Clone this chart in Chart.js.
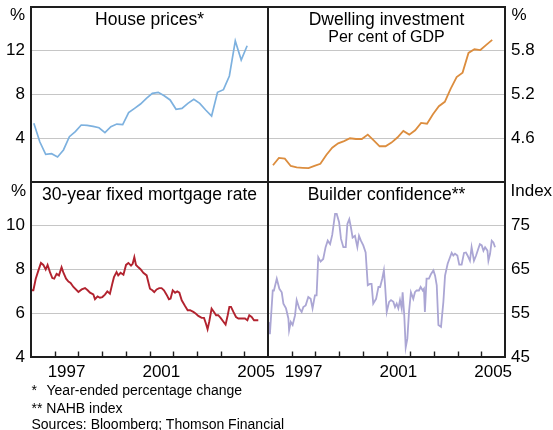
<!DOCTYPE html>
<html><head><meta charset="utf-8">
<script src="https://cdn.jsdelivr.net/npm/chart.js@4"></script>
<style>
html,body{margin:0;padding:0;background:#fff;}
#wrap{position:relative;width:553px;height:430px;overflow:hidden;font-family:"Liberation Sans",Arial,sans-serif;color:#000;}
canvas{position:absolute;left:0;top:0;}
.t{position:absolute;white-space:nowrap;line-height:1;z-index:5;}
.c{transform:translateX(-50%);}
</style></head>
<body><div id="wrap">
<canvas id="c1" width="553" height="430"></canvas>
<canvas id="c2" width="553" height="430"></canvas>
<canvas id="c3" width="553" height="430"></canvas>
<canvas id="c4" width="553" height="430"></canvas>
<div class="t c" style="left:149.5px;top:10.9px;font-size:17.5px">House prices*</div>
<div class="t c" style="left:386.5px;top:10.9px;font-size:17.5px">Dwelling investment</div>
<div class="t c" style="left:386.5px;top:29px;font-size:16px">Per cent of GDP</div>
<div class="t c" style="left:149.5px;top:185.9px;font-size:17.5px">30-year fixed mortgage rate</div>
<div class="t c" style="left:386.5px;top:185.9px;font-size:17.5px">Builder confidence**</div>
<div class="t" style="left:10px;top:5.6px;font-size:17px">%</div>
<div class="t" style="left:511.5px;top:5.6px;font-size:17px">%</div>
<div class="t" style="left:11px;top:181.6px;font-size:17px">%</div>
<div class="t" style="left:510.5px;top:181.6px;font-size:17px">Index</div>
<div class="t" style="left:31.5px;top:383.2px;font-size:14px">*</div>
<div class="t" style="left:46.5px;top:383.2px;font-size:14px">Year-ended percentage change</div>
<div class="t" style="left:31.5px;top:400.5px;font-size:14px">** NAHB index</div>
<div class="t" style="left:31.5px;top:416.5px;font-size:14px">Sources: Bloomberg; Thomson Financial</div>
</div>
<script>
// ---- data ----
const yearLabels = [1997, 2001, 2005];
const xMin = 1996, xMax = 2006;

// House prices, year-ended % change, quarterly from 1996Q1
const housePriceFirst = 1996.12;
const housePrices = [5.37,3.68,2.53,2.59,2.29,2.93,4.14,4.6,5.21,5.18,5.09,4.96,4.51,5.06,5.3,5.24,6.34,6.73,7.13,7.65,8.1,8.2,7.89,7.5,6.65,6.73,7.19,7.56,7.19,6.58,6.03,8.2,8.44,9.69,12.9,11.15,12.46];

// Dwelling investment, per cent of GDP, quarterly from 1996Q1
const dwellingFirst = 1996.21;
const dwelling = [4.23,4.33,4.32,4.22,4.20,4.195,4.19,4.22,4.25,4.37,4.47,4.53,4.56,4.60,4.59,4.59,4.65,4.57,4.49,4.49,4.54,4.61,4.70,4.65,4.71,4.81,4.80,4.93,5.04,5.10,5.28,5.44,5.50,5.77,5.82,5.81,5.88,5.95];

// 30-year fixed mortgage rate
const mortgageYears = [1996.03,1996.10,1996.20,1996.31,1996.42,1996.52,1996.62,1996.70,1996.80,1996.90,1996.98,1997.08,1997.18,1997.29,1997.36,1997.48,1997.58,1997.67,1997.79,1998.00,1998.14,1998.28,1998.39,1998.49,1998.63,1998.70,1998.81,1998.91,1999.01,1999.12,1999.22,1999.33,1999.43,1999.50,1999.61,1999.68,1999.78,1999.90,2000.01,2000.11,2000.22,2000.29,2000.36,2000.43,2000.53,2000.63,2000.74,2000.88,2001.02,2001.12,2001.20,2001.30,2001.41,2001.51,2001.61,2001.72,2001.82,2001.89,2001.98,2002.08,2002.17,2002.26,2002.36,2002.50,2002.61,2002.71,2002.85,2002.96,2003.06,2003.20,2003.30,2003.38,2003.45,2003.52,2003.62,2003.72,2003.81,2003.90,2004.00,2004.12,2004.21,2004.30,2004.37,2004.44,2004.54,2004.65,2004.75,2004.89,2005.03,2005.13,2005.21,2005.31,2005.41,2005.52,2005.59];
const mortgageRates = [7.05,7.05,7.58,7.95,8.30,8.21,8.00,8.21,7.88,7.61,7.58,7.80,7.73,8.10,7.88,7.58,7.45,7.39,7.20,6.97,7.09,7.15,7.05,6.94,6.86,6.64,6.77,6.71,6.74,6.85,7.00,6.89,7.35,7.65,7.88,7.73,7.85,7.76,8.21,8.30,8.18,8.26,8.56,8.21,8.10,8.00,7.85,7.73,7.12,7.05,6.97,7.09,7.15,7.15,7.05,6.85,6.64,6.67,7.05,6.94,7.00,6.94,6.59,6.33,6.14,6.14,6.06,5.98,5.88,5.79,5.79,5.53,5.27,5.61,6.21,6.06,5.91,5.91,5.79,5.61,5.48,5.91,6.29,6.29,6.06,5.83,5.76,5.76,5.76,5.68,5.91,5.83,5.68,5.68,5.68];

// Builder confidence, NAHB index
const builderYears = [1996.03,1996.08,1996.20,1996.25,1996.37,1996.48,1996.58,1996.65,1996.76,1996.86,1996.89,1996.96,1997.04,1997.14,1997.21,1997.32,1997.42,1997.49,1997.59,1997.70,1997.80,1997.88,1997.98,1998.05,1998.12,1998.22,1998.33,1998.43,1998.52,1998.62,1998.71,1998.83,1998.90,1999.00,1999.08,1999.18,1999.28,1999.35,1999.43,1999.50,1999.57,1999.67,1999.77,1999.84,1999.92,2000.02,2000.12,2000.21,2000.30,2000.37,2000.44,2000.56,2000.66,2000.73,2000.82,2000.89,2000.94,2001.01,2001.11,2001.19,2001.29,2001.36,2001.43,2001.50,2001.57,2001.64,2001.68,2001.75,2001.81,2001.88,2001.95,2002.03,2002.13,2002.20,2002.27,2002.37,2002.44,2002.53,2002.58,2002.62,2002.69,2002.79,2002.88,2002.98,2003.05,2003.12,2003.19,2003.30,2003.40,2003.47,2003.58,2003.68,2003.75,2003.82,2003.89,2003.99,2004.07,2004.17,2004.27,2004.35,2004.42,2004.52,2004.59,2004.69,2004.78,2004.87,2004.94,2005.02,2005.09,2005.16,2005.26,2005.30,2005.37,2005.44,2005.51,2005.58];
const builderIndex = [53.0,50.2,60.2,60.2,62.9,60.6,59.8,57.2,56.1,53.8,51.1,53.0,52.3,54.5,58.0,56.1,55.3,56.4,56.8,58.7,58.3,56.1,59.1,59.1,67.8,66.8,67.4,70.1,71.6,70.8,72.9,77.7,77.7,75.8,72.0,70.1,70.1,75.4,76.5,74.6,72.3,72.7,70.1,72.7,71.6,70.5,68.9,61.4,61.7,61.7,57.2,58.3,61.0,61.0,62.9,64.8,61.4,55.3,57.6,58.0,57.6,56.4,57.2,56.1,58.0,56.1,59.8,54.5,47.2,49.2,55.3,59.8,58.3,59.8,60.2,60.2,61.0,60.2,60.6,55.3,62.9,62.9,64.0,64.8,63.6,61.4,52.3,51.9,57.6,63.6,66.3,67.8,68.8,68.2,68.6,68.2,66.1,66.1,68.8,68.9,68.2,67.0,70.1,67.0,68.2,69.7,70.8,70.5,69.3,70.1,69.3,67.0,68.6,71.6,71.2,70.1];

const houseTicks = [4, 8, 12];
const dwellingTicks = [4.6, 5.2, 5.8];
const mortgageTicks = [4, 6, 8, 10];
const builderTicks = [45, 55, 65, 75];

// ---- helpers ----
const FONT = '"Liberation Sans", Arial, sans-serif';
function quarterly(first, vals) { return vals.map((v, i) => ({x: first + i * 0.25, y: v})); }
function paired(xs, ys) { const n = Math.min(xs.length, ys.length); const out = []; for (let i = 0; i < n; i++) out.push({x: xs[i], y: ys[i]}); return out; }

const framePlugin = {
  id: 'frame',
  afterDraw(chart, args, opts) {
    const ctx = chart.ctx, a = chart.chartArea;
    ctx.save();
    ctx.strokeStyle = '#1e1e1e';
    ctx.lineWidth = 2;
    ctx.strokeRect(a.left, a.top, a.right - a.left, a.bottom - a.top);
    if (opts && opts.ticks) {
      const xs = chart.scales.x;
      ctx.lineWidth = 1.4;
      for (let yr = xMin + 1; yr < xMax; yr++) {
        const px = Math.round(xs.getPixelForValue(yr)) + 0.5;
        ctx.beginPath(); ctx.moveTo(px, a.bottom); ctx.lineTo(px, a.bottom - 5.5); ctx.stroke();
      }
    }
    ctx.restore();
  }
};

function zeroPad(s) { s.paddingLeft = 0; s.paddingRight = 0; s.paddingTop = 0; s.paddingBottom = 0; }

function panel(id, cfg) {
  return new Chart(document.getElementById(id), {
    type: 'line',
    data: { datasets: [{ data: cfg.data, borderColor: cfg.color, borderWidth: cfg.width || 1.8, pointRadius: 0, tension: 0, fill: false }] },
    options: {
      responsive: false, animation: false, devicePixelRatio: 1, events: [],
      layout: { padding: cfg.padding },
      plugins: { legend: { display: false }, tooltip: { enabled: false }, title: { display: false }, frame: { ticks: cfg.showX } },
      scales: {
        x: {
          type: 'linear', min: xMin, max: xMax, display: cfg.showX, position: 'bottom',
          grid: { display: false, drawTicks: false }, border: { display: false },
          ticks: { autoSkip: false, maxRotation: 0, minRotation: 0, padding: 5, color: '#000', font: { family: FONT, size: 17 },
                   callback: v => String(Math.floor(v)) },
          afterBuildTicks: s => { s.ticks = yearLabels.map(y => ({ value: y + 0.5 })); },
          afterFit: s => { s.height = cfg.xAxisH || 0; zeroPad(s); }
        },
        y: {
          type: 'linear', min: cfg.min, max: cfg.max, position: cfg.yPos,
          grid: { color: '#c6c6c6', lineWidth: 1, drawTicks: false }, border: { display: false },
          ticks: { padding: 6, color: '#000', font: { family: FONT, size: 17 }, callback: cfg.fmt || (v => String(v)) },
          afterBuildTicks: s => { s.ticks = cfg.ticks.map(v => ({ value: v })); },
          afterFit: s => { s.width = cfg.yAxisW; zeroPad(s); }
        }
      }
    },
    plugins: [framePlugin]
  });
}

panel('c1', { data: quarterly(housePriceFirst, housePrices), color: '#7db1df', width: 1.7,
  padding: { left: 0, right: 285, top: 7, bottom: 248 }, yAxisW: 31, showX: false,
  min: 0, max: 16, yPos: 'left', ticks: houseTicks });
panel('c2', { data: quarterly(dwellingFirst, dwelling), color: '#dc8d3e', width: 1.8,
  padding: { left: 268, right: 0, top: 7, bottom: 248 }, yAxisW: 48, showX: false,
  min: 4.0, max: 6.4, yPos: 'right', ticks: dwellingTicks, fmt: v => v.toFixed(1) });
panel('c3', { data: paired(mortgageYears, mortgageRates), color: '#b2232f', width: 1.9,
  padding: { left: 0, right: 285, top: 182, bottom: 0 }, yAxisW: 31, xAxisH: 73, showX: true,
  min: 4, max: 12, yPos: 'left', ticks: mortgageTicks });
panel('c4', { data: paired(builderYears, builderIndex), color: '#aba6d4', width: 1.8,
  padding: { left: 268, right: 0, top: 182, bottom: 0 }, yAxisW: 48, xAxisH: 73, showX: true,
  min: 45, max: 85, yPos: 'right', ticks: builderTicks });
</script>
</body></html>
